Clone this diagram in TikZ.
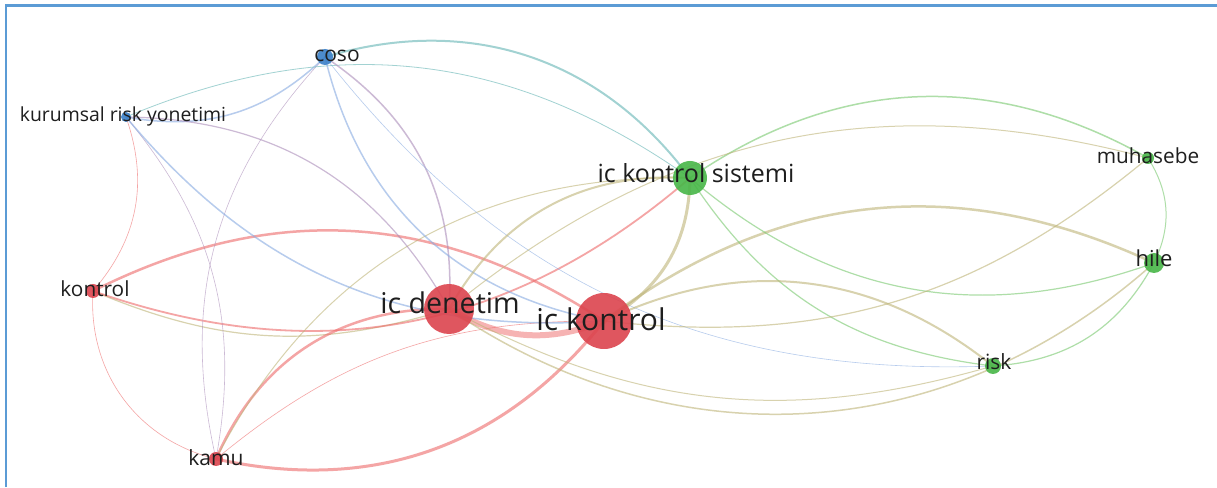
\documentclass[tikz,border=0pt]{standalone}
\usepackage{fontspec}
\setmainfont{Open Sans}
\definecolor{frameblue}{RGB}{91,155,213}
\definecolor{redE}{RGB}{238,105,105}
\definecolor{greenE}{RGB}{120,200,110}
\definecolor{blueE}{RGB}{135,170,225}
\definecolor{oliveE}{RGB}{190,180,120}
\definecolor{purpleE}{RGB}{170,140,185}
\definecolor{tealE}{RGB}{100,180,180}
\definecolor{redN}{RGB}{220,68,78}
\definecolor{greenN}{RGB}{72,182,72}
\definecolor{blueN}{RGB}{58,128,200}
\definecolor{txt}{RGB}{30,30,30}
\tikzset{
  edge/.style={draw opacity=0.6, line cap=round},
  ball/.style={circle, inner sep=0pt, fill opacity=0.9},
  lab/.style={anchor=base, inner sep=0pt, text=txt},
}
\begin{document}
\begin{tikzpicture}[x=1pt,y=1pt]
\useasboundingbox (0,0) rectangle (1217,487);
\fill[white] (0,0) rectangle (1217,487);
\draw[frameblue, line width=2.5pt] (6,0) -- (6,481.5) -- (1217,481.5);

% node centres
\coordinate (CO) at (325,430);
\coordinate (KR) at (126,370);
\coordinate (IS) at (690,309);
\coordinate (MU) at (1148,329);
\coordinate (HI) at (1154,224);
\coordinate (KO) at (93,196);
\coordinate (ID) at (449,178);
\coordinate (IK) at (604,166);
\coordinate (RI) at (993,121);
\coordinate (KA) at (216,28);

% edges
\draw[edge, redE, line width=6pt, draw opacity=0.5] (ID) to[bend right=26] (IK);
\draw[edge, redE, line width=2.5pt] (KO) to[bend left=30] (IK);
\draw[edge, oliveE, line width=1.2pt] (KO) to[bend right=20] (ID);
\draw[edge, redE, line width=1.8pt] (KO) to[bend right=30] (IS);
\draw[edge, redE, line width=0.6pt] (KO) to[bend right=40] (KA);
\draw[edge, redE, line width=2.5pt] (KA) to[bend left=34] (ID);
\draw[edge, redE, line width=3pt] (KA) to[bend right=32] (IK);
\draw[edge, redE, line width=0.6pt] (KA) to[bend left=20] (IK);
\draw[edge, oliveE, line width=1pt] (KA) to[bend left=32] (IS);
\draw[edge, purpleE, line width=0.6pt] (KA) to[bend left=28] (CO);
\draw[edge, purpleE, line width=0.6pt] (KA) to[bend right=25] (KR);
\draw[edge, redE, line width=0.6pt] (KR) to[bend left=30] (KO);
\draw[edge, blueE, line width=1.5pt] (KR) to[bend right=27] (CO);
\draw[edge, tealE, line width=0.8pt] (KR) to[bend left=29] (IS);
\draw[edge, tealE, line width=2pt] (CO) to[bend left=35] (IS);
\draw[edge, purpleE, line width=1.5pt] (CO) to[bend left=30] (ID);
\draw[edge, blueE, line width=1.5pt] (CO) to[bend right=33] (IK);
\draw[edge, blueE, line width=0.6pt] (CO) to[bend right=27] (RI);
\draw[edge, blueE, line width=1.5pt] (KR) to[bend right=27] (IK);
\draw[edge, purpleE, line width=1.2pt] (KR) to[bend left=30] (ID);
\draw[edge, oliveE, line width=3pt] (IS) to[bend left=30] (IK);
\draw[edge, oliveE, line width=2pt] (IS) to[bend right=32] (ID);
\draw[edge, greenE, line width=1.5pt] (IS) to[bend left=32] (MU);
\draw[edge, oliveE, line width=1pt] (ID) to[bend left=27] (MU);
\draw[edge, oliveE, line width=2.5pt] (IK) to[bend left=31] (HI);
\draw[edge, greenE, line width=1.2pt] (IS) to[bend right=30] (HI);
\draw[edge, greenE, line width=1.2pt] (IS) to[bend right=25] (RI);
\draw[edge, greenE, line width=1pt] (MU) to[bend left=29] (HI);
\draw[edge, greenE, line width=1.2pt] (HI) to[bend left=29] (RI);
\draw[edge, oliveE, line width=1.2pt] (IK) to[bend right=23] (MU);
\draw[edge, oliveE, line width=2pt] (IK) to[bend left=32] (RI);
\draw[edge, oliveE, line width=1pt] (ID) to[bend right=22] (RI);
\draw[edge, oliveE, line width=1.5pt] (ID) to[bend right=38] (HI);

% nodes
\node[ball, fill=blueN, minimum size=16pt] (COb) at (CO) {};
\node[ball, fill=blueN, minimum size=10pt] (KRb) at (KR) {};
\node[ball, fill=greenN, minimum size=34pt] (ISb) at (IS) {};
\node[ball, fill=greenN, minimum size=12pt] (MUb) at (MU) {};
\node[ball, fill=greenN, minimum size=20pt] (HIb) at (HI) {};
\node[ball, fill=redN, minimum size=14pt] (KOb) at (KO) {};
\node[ball, fill=redN, minimum size=50pt] (IDb) at (ID) {};
\node[ball, fill=redN, minimum size=56pt] (IKb) at (IK) {};
\node[ball, fill=greenN, minimum size=16pt] (RIb) at (RI) {};
\node[ball, fill=redN, minimum size=14pt] (KAb) at (KA) {};

% labels
\node[lab, font=\fontsize{21}{25}\selectfont] (COl) at (337,425) {coso};
\node[lab, font=\fontsize{19.4}{23}\selectfont] (KRl) at (123,365) {kurumsal risk yonetimi};
\node[lab, font=\fontsize{25}{30}\selectfont] (ISl) at (696,304) {ic kontrol sistemi};
\node[lab, font=\fontsize{20.8}{25}\selectfont] (MUl) at (1148,323) {muhasebe};
\node[lab, font=\fontsize{22}{26}\selectfont] (HIl) at (1154,220) {hile};
\node[lab, font=\fontsize{20.8}{25}\selectfont] (KOl) at (95,190) {kontrol};
\node[lab, font=\fontsize{28.6}{34}\selectfont] (IDl) at (450,173) {ic denetim};
\node[lab, font=\fontsize{30}{36}\selectfont] (IKl) at (601,156) {ic kontrol};
\node[lab, font=\fontsize{21}{25}\selectfont] (RIl) at (994,117) {risk};
\node[lab, font=\fontsize{21}{25}\selectfont] (KAl) at (216,22) {kamu};
\end{tikzpicture}
\end{document}
